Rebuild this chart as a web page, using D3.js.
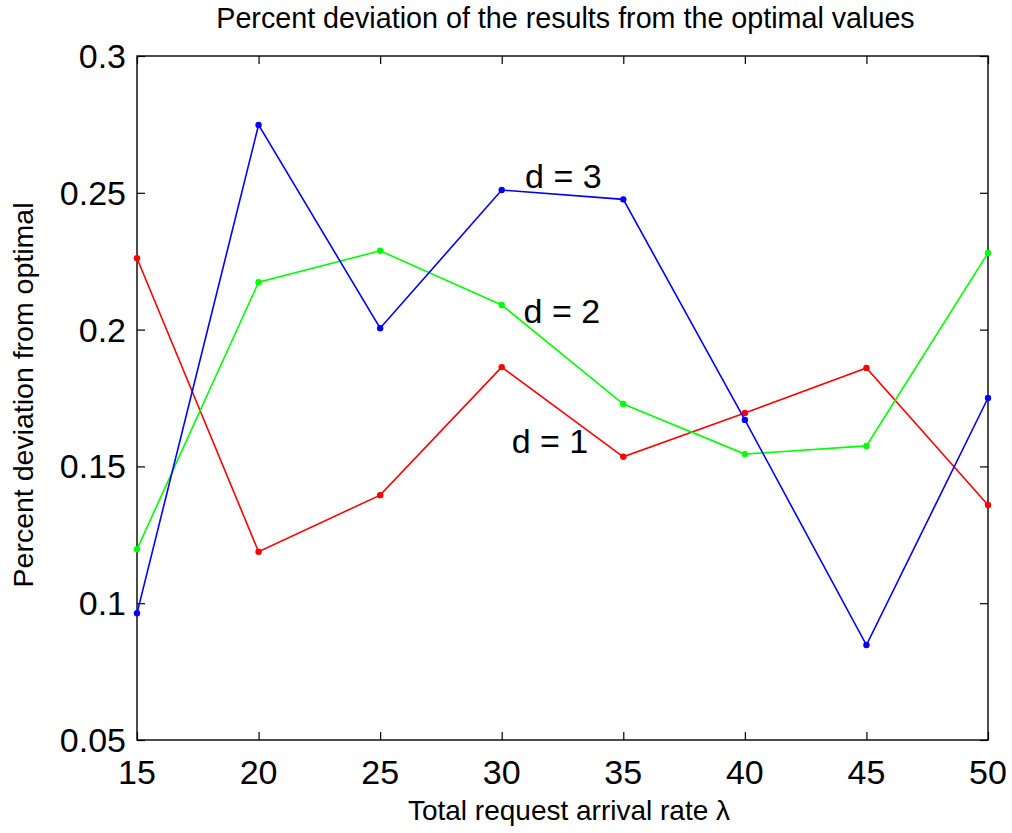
<!DOCTYPE html>
<html>
<head>
<meta charset="utf-8">
<script src="https://cdn.jsdelivr.net/npm/d3@7"></script>
<style>
  html, body { margin: 0; padding: 0; background: #fff; }
  svg { display: block; }
  text { font-family: "Liberation Sans", Arial, Helvetica, sans-serif; fill: #000; }
</style>
</head>
<body>
<svg id="chart" width="1012" height="833"></svg>
<script>
const xValues = [15, 20, 25, 30, 35, 40, 45, 50];
const d1Values = [0.2261, 0.1188, 0.1395, 0.1863, 0.1535, 0.1695, 0.1860, 0.1359];
const d2Values = [0.1197, 0.2173, 0.2288, 0.2090, 0.1728, 0.1545, 0.1575, 0.2280];
const d3Values = [0.0963, 0.2748, 0.2005, 0.2510, 0.2476, 0.1670, 0.0847, 0.1750];
const seriesNames = ["d = 1", "d = 2", "d = 3"];
const seriesColors = ["#ff0000", "#00ff00", "#0000ff"];
const labelX = [30.41, 30.9, 30.96];
const labelY = [0.1549, 0.2025, 0.2518];
const xTicks = [15, 20, 25, 30, 35, 40, 45, 50];
const yTicks = [0.05, 0.1, 0.15, 0.2, 0.25, 0.3];
const yTickLabels = ["0.05", "0.1", "0.15", "0.2", "0.25", "0.3"];
const titleText = "Percent deviation of the results from the optimal values";
const xLabelText = "Total request arrival rate \u03bb";
const yLabelText = "Percent deviation from optimal";

const svg = d3.select("#chart");
const L = 137, R = 988, T = 56, B = 740;
const x = d3.scaleLinear().domain([15, 50]).range([L, R]);
const y = d3.scaleLinear().domain([0.05, 0.3]).range([B, T]);

const tickLen = 8;
const axisStyle = g => {
  g.select(".domain").remove();
  g.selectAll("line").attr("stroke", "#000").attr("stroke-width", 1.2);
  g.selectAll("text").remove();
};

// bottom axis ticks (inward)
svg.append("g").attr("transform", `translate(0,${B})`)
  .call(d3.axisBottom(x).tickValues(xTicks).tickSizeInner(-tickLen).tickSizeOuter(0))
  .call(axisStyle);
// top axis ticks (inward)
svg.append("g").attr("transform", `translate(0,${T})`)
  .call(d3.axisTop(x).tickValues(xTicks).tickSizeInner(-tickLen).tickSizeOuter(0))
  .call(axisStyle);
// left axis ticks
svg.append("g").attr("transform", `translate(${L},0)`)
  .call(d3.axisLeft(y).tickValues(yTicks).tickSizeInner(-tickLen).tickSizeOuter(0))
  .call(axisStyle);
// right axis ticks
svg.append("g").attr("transform", `translate(${R},0)`)
  .call(d3.axisRight(y).tickValues(yTicks).tickSizeInner(-tickLen).tickSizeOuter(0))
  .call(axisStyle);

// box
svg.append("rect").attr("x", L).attr("y", T).attr("width", R - L).attr("height", B - T)
  .attr("fill", "none").attr("stroke", "#000").attr("stroke-width", 1.4);

// tick labels
svg.append("g").selectAll("text").data(xTicks).join("text")
  .attr("x", d => x(d)).attr("y", 784)
  .attr("text-anchor", "middle").attr("font-size", 34)
  .text(d => d);
svg.append("g").selectAll("text").data(yTicks).join("text")
  .attr("x", L - 11).attr("y", d => y(d) + 12)
  .attr("text-anchor", "end").attr("font-size", 34)
  .text((d, i) => yTickLabels[i]);

// series
const allSeries = [d1Values, d2Values, d3Values];
const line = d3.line().x((d, i) => x(xValues[i])).y(d => y(d));
allSeries.forEach((vals, k) => {
  const g = svg.append("g");
  g.append("path").datum(vals).attr("d", line)
    .attr("fill", "none").attr("stroke", seriesColors[k]).attr("stroke-width", 1.6);
  g.selectAll("circle").data(vals).join("circle")
    .attr("cx", (d, i) => x(xValues[i])).attr("cy", d => y(d)).attr("r", 3.2)
    .attr("fill", seriesColors[k]);
});

// series labels
svg.append("g").selectAll("text").data(seriesNames).join("text")
  .attr("x", (d, i) => x(labelX[i])).attr("y", (d, i) => y(labelY[i]))
  .attr("font-size", 34).text(d => d);

// title
svg.append("text").attr("x", 565.5).attr("y", 28)
  .attr("text-anchor", "middle").attr("font-size", 28.7).text(titleText);
// x label
svg.append("text").attr("x", 569).attr("y", 820)
  .attr("text-anchor", "middle").attr("font-size", 28).text(xLabelText);
// y label
svg.append("text").attr("transform", "translate(33,395) rotate(-90)")
  .attr("text-anchor", "middle").attr("font-size", 28.5).text(yLabelText);
</script>
</body>
</html>
